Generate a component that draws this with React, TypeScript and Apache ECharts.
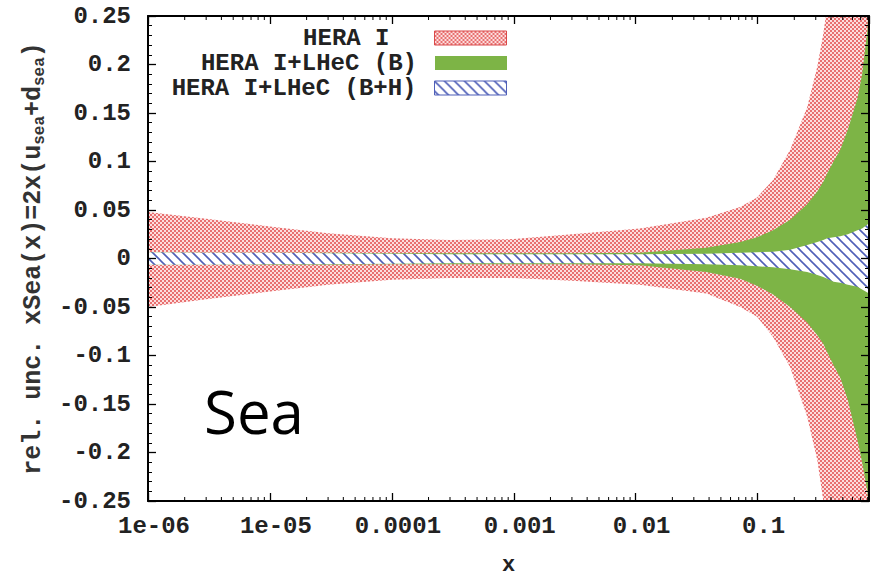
import React, { useEffect, useRef } from 'react';
import * as echarts from 'echarts';

// ---- data ----
const xs = [1e-6, 3e-6, 1e-5, 3e-5, 1e-4, 3e-4, 1e-3, 3e-3, 0.0108, 0.038, 0.072, 0.099, 0.134, 0.185, 0.255, 0.309, 0.346, 0.373, 0.42, 0.477, 0.55, 0.659, 0.72, 0.795, 0.82];

const heraHi = [0.048, 0.041, 0.033, 0.026, 0.021, 0.019, 0.020, 0.025, 0.031, 0.042, 0.053, 0.063, 0.081, 0.112, 0.156, 0.198, 0.232, 0.26, 0.31, 0.37, 0.45, 0.55, 0.6, 0.65, 0.67];
const heraLo = [-0.050, -0.042, -0.034, -0.027, -0.022, -0.020, -0.020, -0.023, -0.027, -0.036, -0.050, -0.060, -0.081, -0.112, -0.163, -0.208, -0.25, -0.28, -0.33, -0.39, -0.46, -0.56, -0.6, -0.65, -0.67];

const lhecBHi = [0.0065, 0.006, 0.006, 0.006, 0.0055, 0.0055, 0.0055, 0.0055, 0.006, 0.011, 0.017, 0.022, 0.029, 0.040, 0.056, 0.069, 0.079, 0.088, 0.100, 0.112, 0.133, 0.165, 0.19, 0.235, 0.27];
const lhecBLo = [-0.0065, -0.0065, -0.0065, -0.0065, -0.006, -0.006, -0.006, -0.006, -0.007, -0.014, -0.021, -0.028, -0.037, -0.050, -0.066, -0.079, -0.088, -0.097, -0.110, -0.123, -0.146, -0.187, -0.21, -0.24, -0.27];

const lhecBHHi = [0.0065, 0.006, 0.006, 0.0055, 0.005, 0.0045, 0.0045, 0.0045, 0.0045, 0.005, 0.006, 0.0065, 0.007, 0.009, 0.014, 0.017, 0.019, 0.021, 0.022, 0.023, 0.025, 0.029, 0.031, 0.035, 0.036];
const lhecBHLo = [-0.0065, -0.0065, -0.006, -0.006, -0.0055, -0.005, -0.005, -0.005, -0.005, -0.006, -0.007, -0.008, -0.009, -0.011, -0.014, -0.017, -0.019, -0.021, -0.024, -0.025, -0.027, -0.029, -0.032, -0.035, -0.036];

const seriesNames = ['HERA I', 'HERA I+LHeC (B)', 'HERA I+LHeC (B+H)'];

const xTickValues = [1e-6, 1e-5, 1e-4, 1e-3, 1e-2, 1e-1];
const xTickLabels = ['1e-06', '1e-05', '0.0001', '0.001', '0.01', '0.1'];
const minorMultipliers = [2, 3, 4, 5, 6, 7, 8, 9];
const yTickLabels = ['-0.25', '-0.2', '-0.15', '-0.1', '-0.05', '0', '0.05', '0.1', '0.15', '0.2', '0.25'];

const X_MIN = 1e-6;
const X_MAX = 0.82;
const Y_MIN = -0.25;
const Y_MAX = 0.25;

const MONO = '"Liberation Mono", "DejaVu Sans Mono", monospace';

function makeDotPattern() {
  const c = document.createElement('canvas');
  c.width = 4;
  c.height = 4;
  const g = c.getContext('2d')!;
  g.fillStyle = '#fcdede';
  g.fillRect(0, 0, 4, 4);
  g.fillStyle = '#e87070';
  g.fillRect(0, 0, 2, 2);
  g.fillRect(2, 2, 2, 2);
  return c;
}

function makeHatchPattern() {
  const s = 10;
  const c = document.createElement('canvas');
  c.width = s;
  c.height = s;
  const g = c.getContext('2d')!;
  g.fillStyle = '#ffffff';
  g.fillRect(0, 0, s, s);
  g.strokeStyle = '#4f5fb8';
  g.lineWidth = 1.6;
  for (const o of [-s, 0, s]) {
    g.beginPath();
    g.moveTo(o - 1, -1);
    g.lineTo(o + s + 1, s + 1);
    g.stroke();
  }
  return c;
}

function bandSeries(name: string, hi: number[], lo: number[], fill: any, z: number) {
  return {
    type: 'custom',
    name,
    clip: true,
    silent: true,
    z,
    data: xs.map((x, i) => [x, lo[i], hi[i]]),
    encode: { x: 0, y: [1, 2] },
    itemStyle: { color: fill },
    renderItem: (params: any, api: any) => {
      if (params.dataIndex !== 0) return null;
      const top = xs.map((x, i) => api.coord([x, hi[i]]));
      const bot = xs.map((x, i) => api.coord([x, lo[i]])).reverse();
      return {
        type: 'polygon',
        shape: { points: top.concat(bot) },
        style: { fill, stroke: null, lineWidth: 0 },
      };
    },
  };
}

export default function App() {
  const ref = useRef<HTMLDivElement>(null);

  useEffect(() => {
    document.body.style.margin = '0';
    if (!ref.current) return;
    const chart = echarts.init(ref.current, null, { renderer: 'svg' });

    const redPattern = { image: makeDotPattern(), repeat: 'repeat' };
    const bluePattern = { image: makeHatchPattern(), repeat: 'repeat' };
    const green = '#7db446';

    const minorTickValues: number[] = [];
    xTickValues.forEach((d) => {
      minorMultipliers.forEach((m) => {
        const v = d * m;
        if (v < X_MAX) minorTickValues.push(v);
      });
    });

    const xLabelFormatter = (v: number) => {
      const l = Math.log10(v);
      const r = Math.round(l);
      if (Math.abs(l - r) > 1e-6) return '';
      const idx = xTickValues.findIndex((t) => Math.abs(Math.log10(t) - r) < 1e-6);
      return idx >= 0 ? xTickLabels[idx] : '';
    };
    const yLabelFormatter = (v: number) => {
      const idx = Math.round((v - Y_MIN) / 0.05);
      return yTickLabels[idx] ?? '';
    };

    const frameLine = { show: true, onZero: false, lineStyle: { color: '#000', width: 2 } };
    const majorTick = { show: true, inside: true, length: 8, lineStyle: { color: '#000', width: 1.3 } };
    const minorTick = { show: true, splitNumber: 5, length: 4, lineStyle: { color: '#000', width: 1 } };

    const legendStyles = [
      { top: 26, pad: 40, itemStyle: { color: redPattern, borderColor: '#d94a4a', borderWidth: 1 } },
      { top: 51, pad: 13, itemStyle: { color: green, borderColor: green, borderWidth: 0 } },
      { top: 76, pad: 13, itemStyle: { color: bluePattern, borderColor: '#4f5fb8', borderWidth: 1 } },
    ];

    const option: any = {
      animation: false,
      backgroundColor: '#ffffff',
      grid: { left: 148, right: 5, top: 16, bottom: 75, containLabel: false, outerBoundsMode: 'none' },
      legend: seriesNames.map((name, i) => ({
        show: true,
        right: 367,
        top: legendStyles[i].top,
        orient: 'vertical',
        align: 'right',
        padding: 0,
        itemWidth: 72,
        itemHeight: 14,
        selectedMode: false,
        data: [{ name, icon: 'rect', itemStyle: legendStyles[i].itemStyle }],
        textStyle: {
          fontFamily: MONO,
          fontWeight: 'bold',
          fontSize: 24,
          color: '#222',
          padding: [0, legendStyles[i].pad, 0, 0],
        },
      })),
      xAxis: [
        {
          type: 'log',
          logBase: 10,
          min: X_MIN,
          max: X_MAX,
          position: 'bottom',
          z: 10,
          axisLine: frameLine,
          axisTick: majorTick,
          splitLine: { show: false },
          axisLabel: {
            formatter: xLabelFormatter,
            fontFamily: MONO,
            fontWeight: 'bold',
            fontSize: 24,
            color: '#222',
            margin: 13,
            padding: [0, 0, 0, 12],
            showMaxLabel: false,
          },
          name: 'x',
          nameLocation: 'middle',
          nameGap: 53,
          nameTextStyle: { fontFamily: MONO, fontWeight: 'bold', fontSize: 22, color: '#222', lineHeight: 22 },
        },
        {
          type: 'log',
          logBase: 10,
          min: X_MIN,
          max: X_MAX,
          position: 'top',
          z: 10,
          axisLine: frameLine,
          axisTick: majorTick,
          splitLine: { show: false },
          axisLabel: { show: false },
        },
      ],
      yAxis: [
        {
          type: 'value',
          min: Y_MIN,
          max: Y_MAX,
          interval: 0.05,
          position: 'left',
          z: 10,
          axisLine: frameLine,
          axisTick: majorTick,
          minorTick,
          splitLine: { show: false },
          axisLabel: {
            formatter: yLabelFormatter,
            fontFamily: MONO,
            fontWeight: 'bold',
            fontSize: 24,
            color: '#222',
            margin: 17,
          },
          name: 'rel. unc. xSea(x)=2x(u{s|sea}+d{s|sea})',
          nameLocation: 'middle',
          nameRotate: 90,
          nameGap: 82,
          nameTextStyle: {
            fontFamily: MONO,
            fontWeight: 'bold',
            fontSize: 25,
            color: '#333',
            lineHeight: 30,
            rich: {
              s: {
                fontFamily: MONO,
                fontWeight: 'bold',
                fontSize: 16,
                color: '#333',
                lineHeight: 16,
                verticalAlign: 'bottom',
              },
            },
          },
        },
        {
          type: 'value',
          min: Y_MIN,
          max: Y_MAX,
          interval: 0.05,
          position: 'right',
          z: 10,
          axisLine: frameLine,
          axisTick: majorTick,
          minorTick,
          splitLine: { show: false },
          axisLabel: { show: false },
        },
      ],
      series: [
        bandSeries(seriesNames[0], heraHi, heraLo, redPattern, 2),
        bandSeries(seriesNames[1], lhecBHi, lhecBLo, green, 3),
        bandSeries(seriesNames[2], lhecBHHi, lhecBHLo, bluePattern, 4),
        {
          type: 'custom',
          name: 'xMinorTicks',
          silent: true,
          clip: false,
          z: 20,
          data: minorTickValues.map((v) => [v, 0]),
          encode: { x: 0, y: 1 },
          renderItem: (params: any, api: any) => {
            const x = api.value(0);
            const b = api.coord([x, Y_MIN]);
            const t = api.coord([x, Y_MAX]);
            return {
              type: 'group',
              children: [
                { type: 'line', shape: { x1: b[0], y1: b[1], x2: b[0], y2: b[1] - 4 }, style: { stroke: '#000', lineWidth: 1 } },
                { type: 'line', shape: { x1: t[0], y1: t[1], x2: t[0], y2: t[1] + 4 }, style: { stroke: '#000', lineWidth: 1 } },
              ],
            };
          },
        },
      ],
      graphic: [
        {
          type: 'text',
          left: 204,
          top: 381,
          z: 50,
          style: { text: 'Sea', font: 'normal 60px "Open Sans"', fill: '#000' },
        },
      ],
    };

    chart.setOption(option);
    return () => chart.dispose();
  }, []);

  return <div ref={ref} style={{ width: 874, height: 576 }} />;
}
